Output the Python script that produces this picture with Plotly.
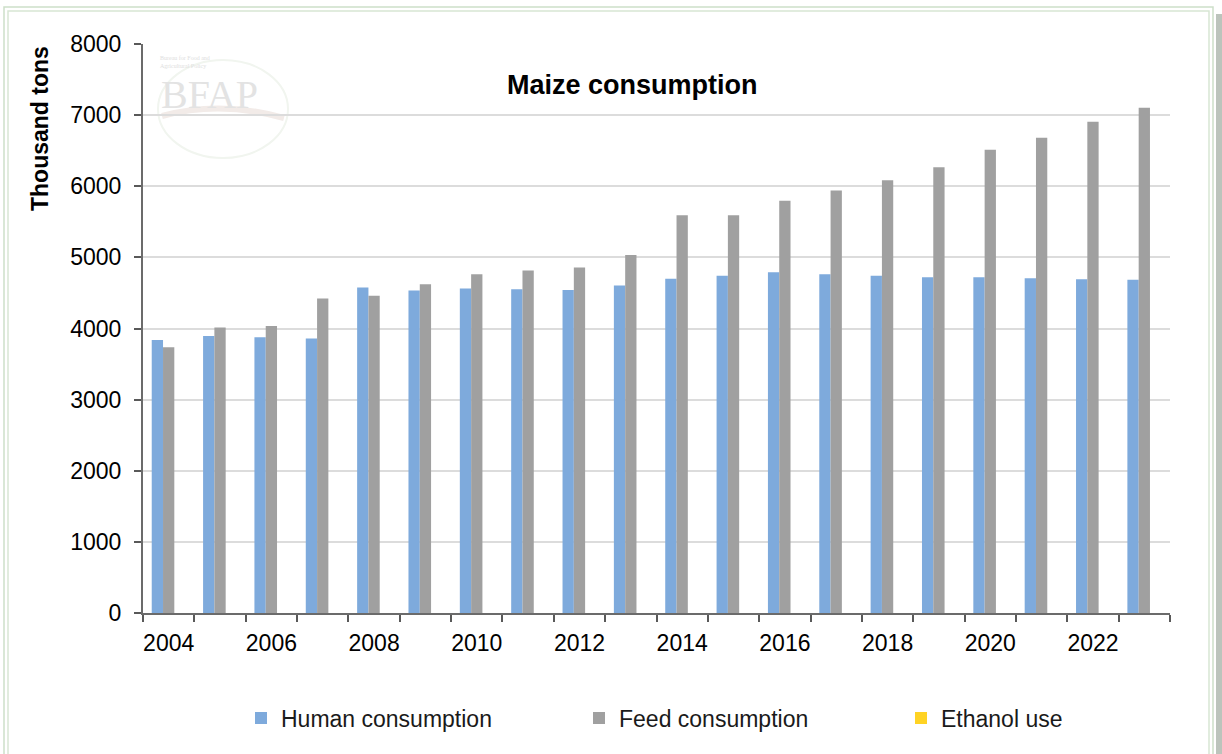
import plotly.graph_objects as go

# Maize consumption, thousand tons
years = [str(y) for y in range(2004, 2024)]
human = [3840, 3896, 3877, 3858, 4576, 4533, 4562, 4553, 4543, 4604,
         4698, 4740, 4792, 4764, 4740, 4721, 4721, 4707, 4693, 4684]
feed = [3737, 4013, 4036, 4421, 4459, 4623, 4764, 4815, 4857, 5035,
        5593, 5593, 5795, 5940, 6085, 6268, 6512, 6681, 6906, 7103]
ethanol = [0] * 20
tick_text = [y if int(y) % 2 == 0 else "" for y in years]

FONT = "Liberation Sans, Arial, sans-serif"
W, H = 1222, 754
L, R, T, B = 143, 1170, 44, 613  # plot area in pixels


def px(x):
    return (x - L) / (R - L)


def py(y):
    return (B - y) / (B - T)


fig = go.Figure()
fig.add_trace(go.Bar(x=years, y=human, name="Human consumption",
                     legend="legend",
                     marker=dict(color="#7eaadc", line=dict(width=0))))
fig.add_trace(go.Bar(x=years, y=feed, name="Feed consumption",
                     legend="legend2",
                     marker=dict(color="#a0a0a0", line=dict(width=0))))
fig.add_trace(go.Bar(x=years, y=ethanol, name="Ethanol use",
                     legend="legend3",
                     marker=dict(color="#ffd324", line=dict(width=0))))

shapes = [
    # outer frame of the picture
    dict(type="rect", xref="paper", yref="paper", x0=px(4), x1=px(1213),
         y0=py(7), y1=py(770), line=dict(color="#cddfc9", width=1.5)),
    dict(type="rect", xref="paper", yref="paper", x0=px(8), x1=px(1209),
         y0=py(11), y1=py(770), line=dict(color="#d8e6d4", width=1.5)),
    dict(type="rect", xref="paper", yref="paper", x0=px(1216), x1=px(1224),
         y0=py(14), y1=py(770), fillcolor="#bcc4bc", line=dict(width=0)),
    # faint logo pieces
    dict(type="circle", xref="paper", yref="paper", x0=px(158), x1=px(288),
         y0=py(60), y1=py(158), line=dict(color="#f1f5ef", width=2),
         layer="below"),
    dict(type="path", xref="paper", yref="paper",
         path="M %f %f Q %f %f %f %f" % (px(162), py(116), px(220), py(100),
                                          px(284), py(118)),
         line=dict(color="#f2ebe8", width=6), layer="below"),
]

annotations = [
    dict(text="Maize consumption", x=px(632), y=py(85), xref="paper",
         yref="paper", showarrow=False, xanchor="center", yanchor="middle",
         font=dict(family=FONT, size=27, color="#000000", weight="bold")),
    dict(text="Thousand tons", x=px(40), y=py(129), xref="paper",
         yref="paper", showarrow=False, textangle=-90, xanchor="center",
         yanchor="middle",
         font=dict(family=FONT, size=23, color="#000000", weight="bold")),
    dict(text="BFAP", x=px(209), y=py(70), xref="paper", yref="paper",
         showarrow=False, xanchor="center", yanchor="top",
         font=dict(family="Liberation Serif, serif", size=40,
                   color="#e3e3e3")),
    dict(text="Bureau for Food and<br>Agricultural Policy", x=px(158),
         y=py(71), xref="paper", yref="paper", showarrow=False,
         xanchor="left", yanchor="bottom", align="left",
         font=dict(family="Liberation Serif, serif", size=6,
                   color="#e0e0e0")),
]


def legend_at(x_pix):
    return dict(orientation="h", x=px(x_pix), y=py(718), xanchor="left",
                yanchor="middle", bgcolor="rgba(0,0,0,0)", borderwidth=0,
                font=dict(family=FONT, size=23, color="#1a1a1a"))


fig.update_layout(
    width=W, height=H,
    margin=dict(l=L, r=W - R, t=T, b=H - B),
    paper_bgcolor="white", plot_bgcolor="white",
    barmode="group", bargap=0.34, bargroupgap=0,
    font=dict(family=FONT, size=23, color="#000000"),
    showlegend=True,
    legend=legend_at(241),
    legend2=legend_at(579),
    legend3=legend_at(901),
    shapes=shapes,
    annotations=annotations,
)

fig.update_xaxes(
    type="category", tickmode="array", tickvals=years, ticktext=tick_text,
    tickson="boundaries", ticks="outside", ticklen=7, tickwidth=2,
    tickcolor="#595959", showline=True, linecolor="#6b6b6b", linewidth=2,
    showgrid=False, ticklabelstandoff=8, tickangle=0, automargin=False,
    tickfont=dict(family=FONT, size=23, color="#000000"),
)
fig.update_yaxes(
    range=[0, 8000], dtick=1000, tickmode="linear", ticks="outside",
    ticklen=7, tickwidth=2, tickcolor="#595959", showline=True,
    linecolor="#6b6b6b", linewidth=2, showgrid=True, gridcolor="#dcdcdc",
    gridwidth=2, zeroline=False, ticklabelstandoff=8, automargin=False,
    tickfont=dict(family=FONT, size=23, color="#000000"),
)

# the page body has a default 8px margin; drop it so the figure sits at 0,0
fig.write_html("out.html", config={"displayModeBar": False},
               post_script="document.body.style.margin='0';")
